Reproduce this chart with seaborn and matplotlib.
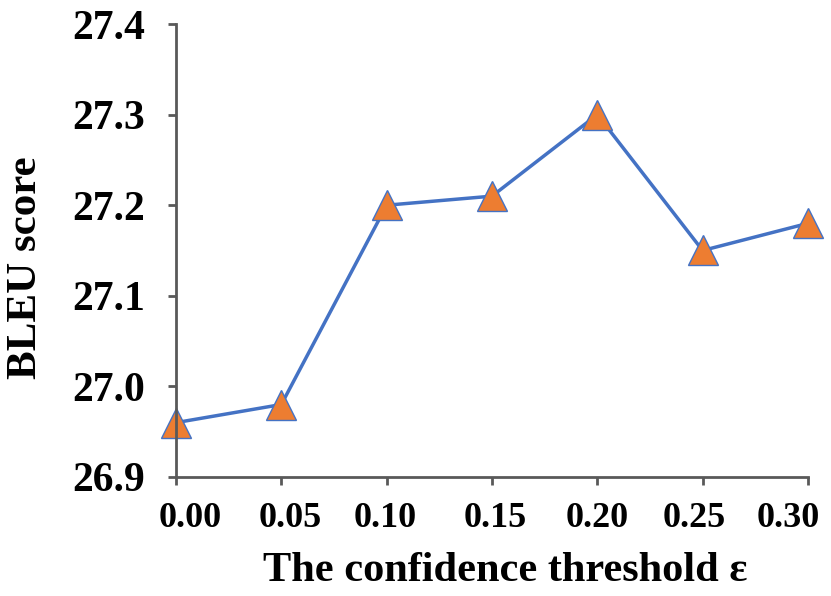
import matplotlib
matplotlib.use('Agg')
import matplotlib.pyplot as plt
import matplotlib.transforms as mtrans
import seaborn as sb
import pandas as pd

thresholds = [0.00, 0.05, 0.10, 0.15, 0.20, 0.25, 0.30]
bleu = [26.96, 26.98, 27.20, 27.21, 27.30, 27.15, 27.18]
x_ticks = [0.00, 0.05, 0.10, 0.15, 0.20, 0.25, 0.30]
y_ticks = [26.9, 27.0, 27.1, 27.2, 27.3, 27.4]

# the x labels in the original sit a bit off their ticks (pixels)
x_label_shift = [14, 9, -1, 3, 0, -8, -20]

sb.set_style('ticks')
plt.rcParams['font.family'] = ['Liberation Serif', 'DejaVu Serif']
plt.rcParams['font.weight'] = 'bold'
plt.rcParams['text.color'] = 'black'
plt.rcParams['axes.labelcolor'] = 'black'
plt.rcParams['xtick.labelcolor'] = 'black'
plt.rcParams['ytick.labelcolor'] = 'black'

df = pd.DataFrame({'threshold': thresholds, 'bleu': bleu})

fig = plt.figure(figsize=(8.31, 5.96), dpi=100)
ax = fig.add_axes([0.2118, 0.1997, 0.7605, 0.7600])

sb.lineplot(data=df, x='threshold', y='bleu', ax=ax, color='#4472C4', linewidth=2.5,
            marker='^', markersize=21, markerfacecolor='#ED7D31',
            markeredgecolor='#4472C4', markeredgewidth=1)

ax.set_xlim(0, 0.30)
ax.set_ylim(26.9, 27.4)
ax.set_xticks(x_ticks)
ax.set_xticklabels([f'{v:.2f}' for v in x_ticks], fontsize=26, fontweight='bold')
ax.set_yticks(y_ticks)
ax.set_yticklabels([f'{v:.1f}' for v in y_ticks], fontsize=30, fontweight='bold')
ax.tick_params(axis='both', color='#595959', width=2, length=6, direction='out')
ax.tick_params(axis='x', pad=12)
ax.tick_params(axis='y', pad=16)
for c in ax.collections + ax.lines:
    c.set_clip_on(False)

for lab, dx in zip(ax.get_xticklabels(), x_label_shift):
    lab.set_transform(lab.get_transform() + mtrans.ScaledTranslation(dx / 100, 0, fig.dpi_scale_trans))

sb.despine(ax=ax)
for s in ['left', 'bottom']:
    ax.spines[s].set_color('#595959')
    ax.spines[s].set_linewidth(2)

ax.set_xlabel('The confidence threshold ε', fontsize=30.5, fontweight='bold')
ax.set_ylabel('BLEU score', fontsize=31, fontweight='bold')
ax.xaxis.set_label_coords(0.521, -0.165)
ax.yaxis.set_label_coords(-0.207, 0.461)

fig.savefig('out.png', dpi=100)
